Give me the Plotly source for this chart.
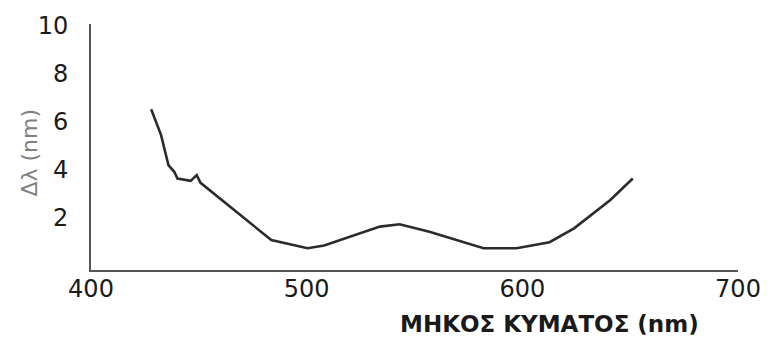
import plotly.graph_objects as go

wavelength = [427.9, 432.5, 435.9, 438.6, 440.1, 446.2, 449.0, 450.8, 483.6, 500.4,
              508.1, 534.0, 543.1, 556.9, 582.0, 597.3, 612.6, 624.0, 640.8, 651.2]
delta = [6.52, 5.44, 4.19, 3.91, 3.63, 3.53, 3.77, 3.45, 1.06, 0.72,
         0.83, 1.62, 1.72, 1.41, 0.72, 0.72, 0.97, 1.55, 2.73, 3.63]

x_ticks = [400, 500, 600, 700]
y_ticks = [2, 4, 6, 8, 10]

W, H = 773, 338
L, R, T, B = 90.7, 27, 23, 68

fig = go.Figure()
fig.add_trace(go.Scatter(x=wavelength, y=delta, mode="lines",
                         line=dict(color="#2b2b2b", width=2.6), showlegend=False))

fig.update_layout(
    width=W, height=H,
    margin=dict(l=L, r=R, t=T, b=B, pad=0),
    paper_bgcolor="white", plot_bgcolor="white",
    font=dict(family="DejaVu Sans", color="#1a1a1a"),
    xaxis=dict(range=[400, 700], tickvals=x_ticks, showgrid=False, zeroline=False,
               showline=True, linecolor="#555555", linewidth=2,
               ticks="", ticklabelstandoff=-4, tickfont=dict(size=24, color="#1a1a1a")),
    yaxis=dict(range=[-0.19, 10.08], tickvals=y_ticks, showgrid=False, zeroline=False,
               showline=True, linecolor="#555555", linewidth=2,
               ticks="", ticklabelstandoff=16, tickfont=dict(size=24, color="#1a1a1a")),
    annotations=[
        dict(text="<b>ΜΗΚΟΣ ΚΥΜΑΤΟΣ (nm)</b>", xref="paper", yref="paper",
             x=(555 - L) / (W - L - R), y=-(324 - (H - B)) / (H - T - B),
             xanchor="center", yanchor="middle", showarrow=False,
             font=dict(size=23, family="DejaVu Sans", color="#1a1a1a")),
        dict(text="Δλ (nm)", xref="paper", yref="paper",
             x=-(L - 28) / (W - L - R), y=1 - (152 - T) / (H - T - B),
             xanchor="center", yanchor="middle", showarrow=False, textangle=-90,
             font=dict(size=22, family="DejaVu Sans", color="#808080")),
    ],
)

fig.write_html("out.html")
